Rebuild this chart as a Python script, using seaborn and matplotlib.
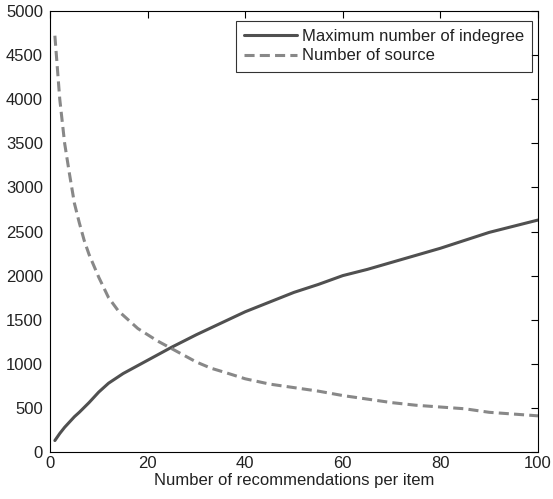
import matplotlib
matplotlib.use("Agg")
import matplotlib.pyplot as plt
import seaborn as sns
import pandas as pd

# Data
x_indegree = [1, 2, 3, 4, 5, 6, 8, 10, 12, 15, 18, 20, 25, 30, 35, 40, 45, 50, 55, 60,
              65, 70, 75, 80, 85, 90, 95, 100]
y_indegree = [130, 210, 280, 340, 400, 450, 560, 680, 780, 890, 980, 1040, 1190, 1330,
              1460, 1590, 1700, 1810, 1900, 2000, 2070, 2150, 2230, 2310, 2400, 2490,
              2560, 2630]

x_source = [1, 2, 3, 4, 5, 6, 7, 8, 10, 12, 14, 16, 18, 20, 22, 25, 28, 30, 33, 36, 40,
            45, 50, 55, 60, 65, 70, 75, 80, 85, 90, 95, 100]
y_source = [4720, 4000, 3500, 3150, 2820, 2600, 2400, 2240, 1980, 1750, 1600, 1500, 1400,
            1330, 1260, 1170, 1080, 1020, 950, 900, 830, 770, 730, 690, 640, 600, 560,
            530, 510, 490, 450, 430, 410]

labels = ["Maximum number of indegree", "Number of source"]
x_ticks = [0, 20, 40, 60, 80, 100]
y_ticks = list(range(0, 5001, 500))

sns.set_style("white")
plt.rcParams['font.family'] = ['Liberation Sans', 'DejaVu Sans']

fig = plt.figure(figsize=(5.53, 4.99), dpi=100)
ax = fig.add_axes([50/553, 47/499, 488/553, 441/499])

df1 = pd.DataFrame({"x": x_indegree, "y": y_indegree})
df2 = pd.DataFrame({"x": x_source, "y": y_source})

sns.lineplot(data=df1, x="x", y="y", ax=ax, color="#505050", linewidth=2.2,
             label=labels[0])
sns.lineplot(data=df2, x="x", y="y", ax=ax, color="#888888", linewidth=2.2,
             label=labels[1], dashes=False)
ax.lines[1].set_dashes((3.3, 1.7))

FS = 12
ax.set_xlim(0, 100)
ax.set_ylim(0, 5000)
ax.set_xticks(x_ticks)
ax.set_yticks(y_ticks)
ax.tick_params(direction="in", length=5, width=0.8, top=True, right=True,
               labelsize=FS, colors="black", labelcolor="#222222", pad=3)
ax.tick_params(axis="y", pad=5)
for s in ax.spines.values():
    s.set_color("black")
    s.set_linewidth(0.8)
ax.set_xlabel("Number of recommendations per item", fontsize=FS, color="#222222",
              labelpad=1)
ax.set_ylabel("")

leg = ax.legend(loc="upper right", fontsize=FS, frameon=True, fancybox=False,
                edgecolor="black", handlelength=3.2, handletextpad=0.25,
                borderpad=0.5, labelspacing=0.25, borderaxespad=0.0,
                bbox_to_anchor=(532/553, 1 - 21/499), bbox_transform=fig.transFigure)
leg.get_frame().set_linewidth(0.8)
for t in leg.get_texts():
    t.set_color("#222222")

fig.savefig("out.png", dpi=100)
